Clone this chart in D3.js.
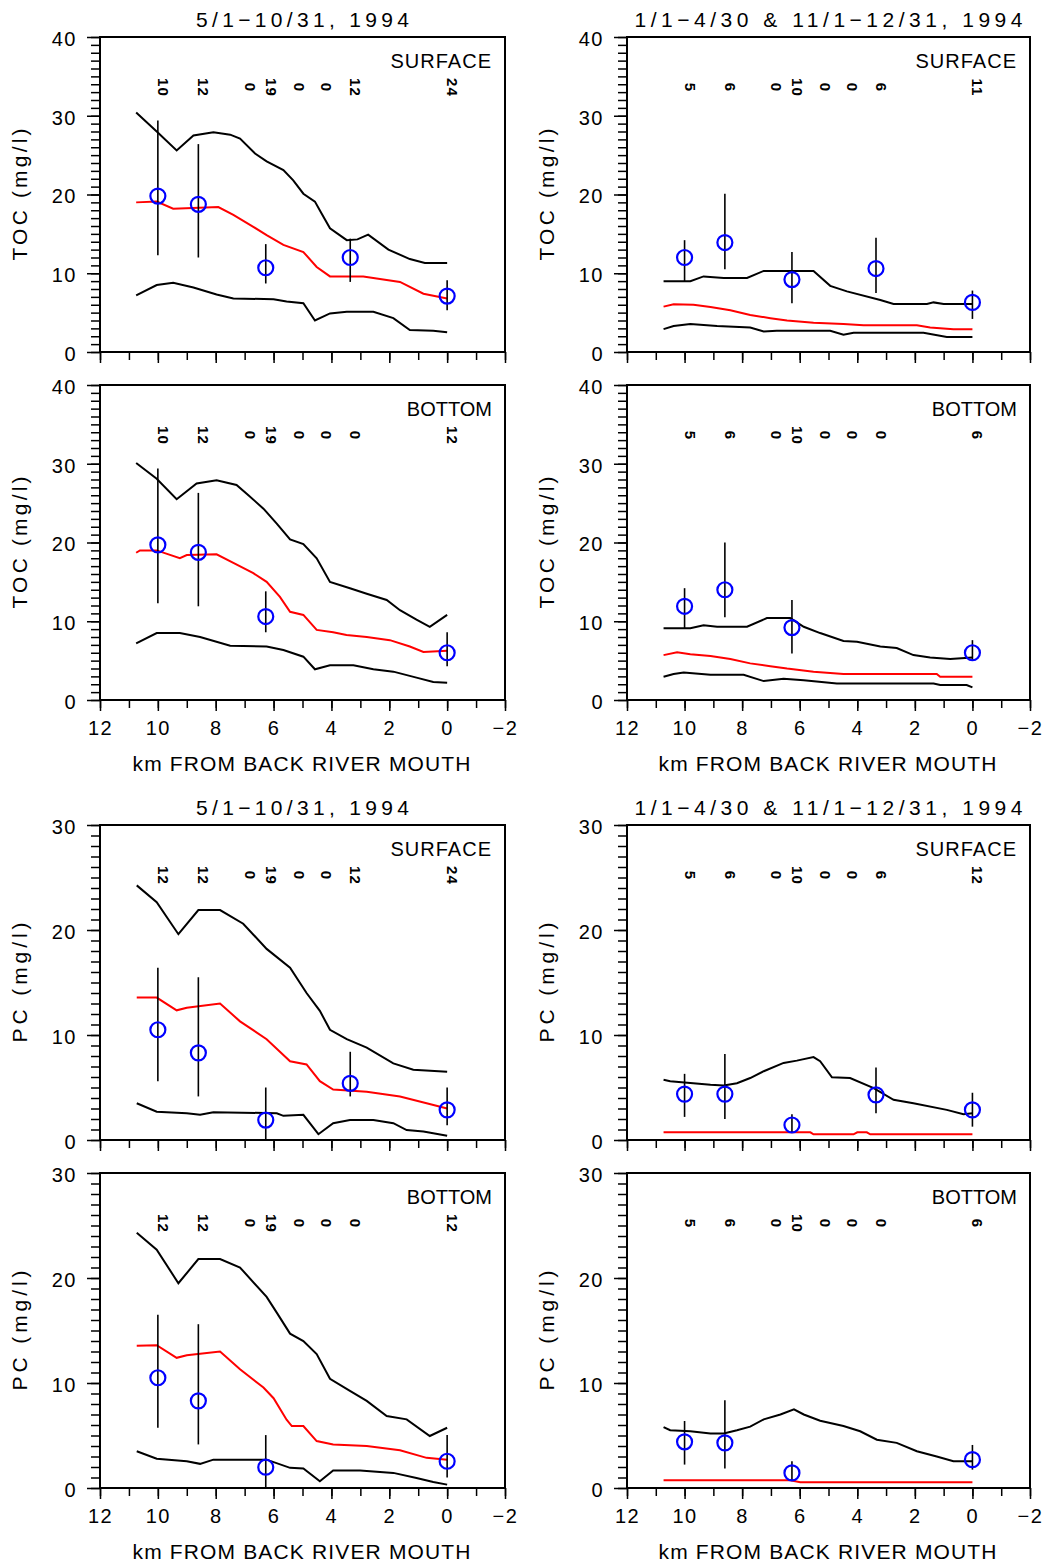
<!DOCTYPE html>
<html lang="en">
<head>
    <meta charset="UTF-8">
    <title>TOC and PC along Back River</title>
    <script src="https://d3js.org/d3.v7.min.js"></script>
    <style>
        body {
            margin: 0;
            background: #fff;
        }
        svg {
            display: block;
        }
        text {
            font-family: "Liberation Sans", Arial, sans-serif;
            fill: #000;
        }
        .frame {
            fill: none;
            stroke: #000;
            stroke-width: 2;
        }
        .tick line {
            stroke: #000;
            stroke-width: 1.5;
        }
        .band {
            fill: none;
            stroke: #000;
            stroke-width: 2;
        }
        .mid {
            fill: none;
            stroke: #ff0000;
            stroke-width: 2;
        }
        .err {
            stroke: #000;
            stroke-width: 1.6;
        }
        .obs {
            fill: none;
            stroke: #0000ff;
            stroke-width: 2.2;
        }
    </style>
</head>
<body>
<script>
    // stations (km from Back River mouth) used for the sample counts
    var stations = [10.0, 8.6, 7.0, 6.27, 5.3, 4.35, 3.35, 0.0];

    var titleSummer = "5/1\u221210/31, 1994";
    var titleWinter = "1/1\u22124/30 & 11/1\u221212/31, 1994";

    // ---- TOC, May-Oct, surface
    var tocSumSurfUpper = [[10.75,30.4],[10.04,28.0],[9.35,25.6],[8.77,27.5],[8.08,27.9],[7.5,27.6],[7.16,27.1],[6.64,25.2],[6.24,24.2],[5.66,23.1],[5.32,21.8],[4.97,20.1],[4.57,19.1],[4.34,17.6],[4.05,15.7],[3.47,14.2],[3.1,14.3],[2.73,14.9],[2.03,13.0],[1.29,11.8],[0.77,11.3],[0.0,11.3]];
    var tocSumSurfMid = [[10.75,19.0],[10.04,19.1],[9.47,18.2],[7.91,18.4],[7.39,17.4],[6.7,15.9],[6.24,14.85],[5.66,13.6],[4.97,12.7],[4.51,10.8],[4.05,9.6],[2.9,9.6],[1.63,8.9],[0.82,7.4],[0.0,6.8]];
    var tocSumSurfLower = [[10.75,7.2],[10.04,8.5],[9.47,8.8],[8.77,8.2],[7.97,7.3],[7.39,6.8],[6.0,6.7],[5.55,6.4],[4.97,6.2],[4.57,4.0],[4.05,4.9],[3.47,5.1],[2.55,5.1],[1.86,4.3],[1.29,2.8],[0.48,2.7],[0.0,2.5]];
    var tocSumSurfObsKm = [10.0, 8.6, 6.27, 3.35, 0.0];
    var tocSumSurfObs = [19.8, 18.75, 10.7, 12.0, 7.1];
    var tocSumSurfLo = [12.3, 12.0, 8.7, 8.9, 5.3];
    var tocSumSurfHi = [29.4, 26.4, 13.7, 14.4, 9.1];
    var tocSumSurfN = ["10", "12", "0", "19", "0", "0", "12", "24"];

    // ---- TOC, Jan-Apr & Nov-Dec, surface
    var tocWinSurfUpper = [[10.73,9.0],[9.8,9.0],[9.34,9.6],[8.64,9.4],[7.83,9.4],[7.25,10.3],[5.52,10.3],[4.94,8.4],[4.36,7.7],[3.2,6.6],[2.74,6.1],[1.58,6.1],[1.35,6.3],[1.0,6.1],[0.0,6.1]];
    var tocWinSurfMid = [[10.73,5.76],[10.38,6.05],[9.69,6.0],[9.1,5.7],[8.41,5.3],[7.72,4.7],[7.02,4.3],[6.44,4.0],[5.52,3.7],[4.48,3.55],[3.78,3.4],[1.93,3.4],[1.47,3.1],[0.66,2.9],[0.0,2.9]];
    var tocWinSurfLower = [[10.73,2.9],[10.38,3.3],[9.8,3.55],[8.87,3.3],[7.72,3.1],[7.25,2.6],[6.8,2.7],[4.94,2.7],[4.48,2.2],[4.13,2.45],[1.7,2.45],[0.89,1.9],[0.0,1.9]];
    var tocWinSurfObsKm = [10.0, 8.6, 6.27, 3.35, 0.0];
    var tocWinSurfObs = [12.0, 13.9, 9.2, 10.6, 6.3];
    var tocWinSurfLo = [9.0, 10.5, 6.2, 7.5, 4.2];
    var tocWinSurfHi = [14.2, 20.1, 12.7, 14.5, 7.8];
    var tocWinSurfN = ["5", "6", "0", "10", "0", "0", "6", "11"];

    // ---- TOC, May-Oct, bottom
    var tocSumBotUpper = [[10.75,30.1],[10.04,28.1],[9.35,25.5],[8.66,27.5],[7.97,27.9],[7.28,27.3],[6.87,26.0],[6.35,24.3],[5.89,22.4],[5.43,20.4],[4.97,19.8],[4.51,18.0],[4.05,15.0],[3.36,14.2],[2.78,13.5],[2.09,12.7],[1.63,11.4],[1.06,10.2],[0.6,9.3],[0.0,10.8]];
    var tocSumBotMid = [[10.75,18.7],[10.62,19.0],[10.04,19.0],[9.24,18.0],[9.0,18.4],[7.97,18.5],[7.39,17.4],[6.7,16.1],[6.24,15.0],[5.78,13.1],[5.43,11.2],[4.97,10.8],[4.51,8.9],[3.94,8.6],[3.48,8.25],[2.78,8.0],[1.98,7.6],[1.29,6.8],[0.82,6.1],[0.0,6.25]];
    var tocSumBotLower = [[10.75,7.2],[10.04,8.5],[9.24,8.5],[8.54,8.0],[7.5,6.9],[6.24,6.8],[5.66,6.35],[4.97,5.5],[4.57,3.9],[4.05,4.4],[3.24,4.4],[2.55,3.9],[1.86,3.6],[1.06,2.84],[0.48,2.3],[0.0,2.2]];
    var tocSumBotObsKm = [10.0, 8.6, 6.27, 0.0];
    var tocSumBotObs = [19.7, 18.75, 10.6, 6.0];
    var tocSumBotLo = [12.3, 11.9, 8.6, 4.3];
    var tocSumBotHi = [29.4, 26.3, 13.8, 8.6];
    var tocSumBotN = ["10", "12", "0", "19", "0", "0", "0", "12"];

    // ---- TOC, Jan-Apr & Nov-Dec, bottom
    var tocWinBotUpper = [[10.73,9.1],[9.8,9.1],[9.34,9.5],[8.87,9.3],[7.83,9.3],[7.14,10.4],[6.33,10.4],[5.86,9.3],[5.29,8.5],[4.48,7.5],[4.01,7.4],[3.2,6.8],[2.63,6.6],[2.05,5.7],[1.47,5.4],[0.77,5.2],[0.0,5.4]];
    var tocWinBotMid = [[10.73,5.7],[10.26,6.05],[9.8,5.8],[9.1,5.6],[8.41,5.2],[7.72,4.65],[7.02,4.3],[6.44,4.0],[5.52,3.6],[4.48,3.3],[1.24,3.3],[1.12,2.96],[0.0,2.96]];
    var tocWinBotLower = [[10.73,2.96],[10.38,3.3],[10.03,3.5],[9.1,3.2],[7.95,3.2],[7.25,2.4],[6.56,2.7],[5.86,2.5],[4.71,2.1],[1.35,2.1],[1.12,1.9],[0.2,1.9],[0.0,1.6]];
    var tocWinBotObsKm = [10.0, 8.6, 6.27, 0.0];
    var tocWinBotObs = [11.9, 14.0, 9.2, 6.0];
    var tocWinBotLo = [9.1, 10.5, 5.9, 5.1];
    var tocWinBotHi = [14.2, 20.0, 12.7, 7.6];
    var tocWinBotN = ["5", "6", "0", "10", "0", "0", "0", "6"];

    // ---- PC, May-Oct, surface
    var pcSumSurfUpper = [[10.73,24.25],[10.04,22.65],[9.29,19.6],[8.6,21.9],[7.85,21.9],[7.05,20.6],[6.24,18.2],[5.43,16.4],[4.86,14.0],[4.4,12.3],[4.05,10.5],[3.47,9.6],[2.78,8.8],[1.86,7.3],[1.17,6.7],[0.0,6.5]];
    var pcSumSurfMid = [[10.73,13.56],[10.04,13.56],[9.35,12.35],[9.0,12.6],[7.85,13.0],[7.16,11.3],[6.24,9.6],[5.43,7.5],[4.86,7.2],[4.4,5.6],[3.94,4.8],[2.78,4.6],[1.63,4.15],[0.71,3.5],[0.0,3.0]];
    var pcSumSurfLower = [[10.73,3.5],[10.04,2.7],[9.0,2.55],[8.54,2.4],[8.08,2.65],[5.89,2.55],[5.66,2.3],[4.97,2.4],[4.45,0.55],[3.94,1.6],[3.36,1.9],[2.55,1.9],[1.86,1.6],[1.4,0.95],[0.82,0.8],[0.0,0.4]];
    var pcSumSurfObsKm = [10.0, 8.6, 6.27, 3.35, 0.0];
    var pcSumSurfObs = [10.5, 8.3, 1.9, 5.4, 2.87];
    var pcSumSurfLo = [5.6, 4.15, 0.0, 4.15, 1.4];
    var pcSumSurfHi = [16.4, 15.5, 5.0, 8.4, 5.0];
    var pcSumSurfN = ["12", "12", "0", "19", "0", "0", "12", "24"];

    // ---- PC, Jan-Apr & Nov-Dec, surface
    var pcWinSurfUpper = [[10.73,5.74],[10.5,5.6],[9.1,5.27],[8.64,5.2],[8.18,5.4],[7.72,5.9],[7.25,6.55],[6.56,7.34],[6.1,7.56],[5.52,7.9],[5.29,7.5],[4.88,5.97],[4.25,5.9],[3.43,4.95],[2.74,3.83],[2.05,3.5],[0.89,2.87],[0.31,2.45],[0.0,2.55]];
    var pcWinSurfMid = [[10.73,0.73],[5.63,0.73],[5.52,0.54],[4.13,0.54],[4.0,0.73],[3.67,0.73],[3.55,0.54],[0.0,0.54]];
    var pcWinSurfObsKm = [10.0, 8.6, 6.27, 3.35, 0.0];
    var pcWinSurfObs = [4.37, 4.37, 1.43, 4.3, 2.87];
    var pcWinSurfLo = [2.2, 2.0, 0.73, 2.55, 1.27];
    var pcWinSurfHi = [6.3, 8.2, 2.45, 6.9, 4.5];
    var pcWinSurfN = ["5", "6", "0", "10", "0", "0", "6", "12"];

    // ---- PC, May-Oct, bottom
    var pcSumBotUpper = [[10.73,24.3],[10.04,22.7],[9.29,19.5],[8.6,21.8],[7.85,21.8],[7.16,21.0],[6.24,18.2],[5.89,16.7],[5.43,14.7],[4.97,14.0],[4.51,12.75],[4.05,10.4],[3.36,9.25],[2.78,8.3],[2.09,6.86],[1.4,6.54],[0.6,4.95],[0.0,5.74]];
    var pcSumBotMid = [[10.73,13.55],[10.04,13.6],[9.35,12.4],[9.0,12.65],[7.85,13.0],[7.16,11.3],[6.35,9.57],[6.0,8.55],[5.55,6.5],[5.37,5.9],[4.97,5.9],[4.51,4.47],[3.94,4.15],[2.78,4.0],[1.63,3.6],[0.71,2.87],[0.0,2.7]];
    var pcSumBotLower = [[10.73,3.5],[10.04,2.78],[9.0,2.55],[8.54,2.3],[8.08,2.7],[6.24,2.7],[5.43,1.92],[4.97,1.85],[4.4,0.64],[3.94,1.66],[3.01,1.66],[1.86,1.44],[1.06,0.96],[0.48,0.58],[0.0,0.32]];
    var pcSumBotObsKm = [10.0, 8.6, 6.27, 0.0];
    var pcSumBotObs = [10.5, 8.3, 1.98, 2.55];
    var pcSumBotLo = [5.74, 4.15, 0.0, 1.0];
    var pcSumBotHi = [16.5, 15.6, 5.04, 5.04];
    var pcSumBotN = ["12", "12", "0", "19", "0", "0", "0", "12"];

    // ---- PC, Jan-Apr & Nov-Dec, bottom
    var pcWinBotUpper = [[10.73,5.8],[10.5,5.5],[9.8,5.4],[9.1,5.2],[8.64,5.2],[8.18,5.5],[7.72,5.84],[7.25,6.54],[6.67,7.0],[6.2,7.5],[5.86,7.0],[5.29,6.4],[4.48,5.9],[3.9,5.4],[3.32,4.6],[2.63,4.3],[1.93,3.5],[1.24,3.0],[0.66,2.55],[0.0,2.55]];
    var pcWinBotMid = [[10.73,0.74],[6.33,0.74],[5.98,0.55],[0.0,0.55]];
    var pcWinBotObsKm = [10.0, 8.6, 6.27, 0.0];
    var pcWinBotObs = [4.4, 4.3, 1.44, 2.7];
    var pcWinBotLo = [2.23, 1.85, 0.7, 1.75];
    var pcWinBotHi = [6.38, 8.35, 2.55, 4.1];
    var pcWinBotN = ["5", "6", "0", "10", "0", "0", "0", "6"];

    // ---- layout
    var width = 1060;
    var height = 1568;
    var cols = [[100, 505], [627, 1030]];
    var rowTops = [37, 385, 825, 1173];
    var plotH = 315;

    function obsRows(km, mean, lo, hi) {
        return km.map(function (k, i) {
            return {km: k, v: mean[i], lo: lo[i], hi: hi[i]};
        });
    }

    var panels = [
        {col: 0, row: 0, ymax: 40, ylab: "TOC (mg/l)", ylabLen: 132, title: titleSummer, titleLen: 213, tag: "SURFACE",
            lines: [tocSumSurfUpper, tocSumSurfLower], mid: tocSumSurfMid,
            obs: obsRows(tocSumSurfObsKm, tocSumSurfObs, tocSumSurfLo, tocSumSurfHi), n: tocSumSurfN},
        {col: 1, row: 0, ymax: 40, ylab: "TOC (mg/l)", ylabLen: 132, title: titleWinter, titleLen: 388, tag: "SURFACE",
            lines: [tocWinSurfUpper, tocWinSurfLower], mid: tocWinSurfMid,
            obs: obsRows(tocWinSurfObsKm, tocWinSurfObs, tocWinSurfLo, tocWinSurfHi), n: tocWinSurfN},
        {col: 0, row: 1, ymax: 40, ylab: "TOC (mg/l)", ylabLen: 132, xlab: true, tag: "BOTTOM",
            lines: [tocSumBotUpper, tocSumBotLower], mid: tocSumBotMid,
            obs: obsRows(tocSumBotObsKm, tocSumBotObs, tocSumBotLo, tocSumBotHi), n: tocSumBotN},
        {col: 1, row: 1, ymax: 40, ylab: "TOC (mg/l)", ylabLen: 132, xlab: true, tag: "BOTTOM",
            lines: [tocWinBotUpper, tocWinBotLower], mid: tocWinBotMid,
            obs: obsRows(tocWinBotObsKm, tocWinBotObs, tocWinBotLo, tocWinBotHi), n: tocWinBotN},
        {col: 0, row: 2, ymax: 30, ylab: "PC (mg/l)", ylabLen: 120, title: titleSummer, titleLen: 213, tag: "SURFACE",
            lines: [pcSumSurfUpper, pcSumSurfLower], mid: pcSumSurfMid,
            obs: obsRows(pcSumSurfObsKm, pcSumSurfObs, pcSumSurfLo, pcSumSurfHi), n: pcSumSurfN},
        {col: 1, row: 2, ymax: 30, ylab: "PC (mg/l)", ylabLen: 120, title: titleWinter, titleLen: 388, tag: "SURFACE",
            lines: [pcWinSurfUpper], mid: pcWinSurfMid,
            obs: obsRows(pcWinSurfObsKm, pcWinSurfObs, pcWinSurfLo, pcWinSurfHi), n: pcWinSurfN},
        {col: 0, row: 3, ymax: 30, ylab: "PC (mg/l)", ylabLen: 120, xlab: true, tag: "BOTTOM",
            lines: [pcSumBotUpper, pcSumBotLower], mid: pcSumBotMid,
            obs: obsRows(pcSumBotObsKm, pcSumBotObs, pcSumBotLo, pcSumBotHi), n: pcSumBotN},
        {col: 1, row: 3, ymax: 30, ylab: "PC (mg/l)", ylabLen: 120, xlab: true, tag: "BOTTOM",
            lines: [pcWinBotUpper], mid: pcWinBotMid,
            obs: obsRows(pcWinBotObsKm, pcWinBotObs, pcWinBotLo, pcWinBotHi), n: pcWinBotN}
    ];

    var svg = d3.select("body").append("svg")
            .attr("width", width)
            .attr("height", height);

    var plot = function (p) {
        var x0 = cols[p.col][0], x1 = cols[p.col][1];
        var top = rowTops[p.row], bottom = top + plotH;

        var xScale = d3.scaleLinear().domain([12, -2]).range([x0, x1]);
        var yScale = d3.scaleLinear().domain([0, p.ymax]).range([bottom, top]);

        var g = svg.append("g");

        // minor ticks
        g.append("g")
                .attr("transform", "translate(" + x0 + ",0)")
                .call(d3.axisLeft(yScale).tickValues(d3.range(0, p.ymax + 1, 1))
                        .tickSize(9).tickSizeOuter(0).tickFormat(""))
                .call(function (a) { a.select(".domain").remove(); });
        g.append("g")
                .attr("transform", "translate(0," + bottom + ")")
                .call(d3.axisBottom(xScale).tickValues(d3.range(-2, 13, 1))
                        .tickSize(8).tickSizeOuter(0).tickFormat(""))
                .call(function (a) { a.select(".domain").remove(); });

        // major ticks + labels
        var yAxis = g.append("g")
                .attr("transform", "translate(" + x0 + ",0)")
                .call(d3.axisLeft(yScale).tickValues(d3.range(0, p.ymax + 1, 10))
                        .tickSize(13).tickSizeOuter(0).tickPadding(10));
        var xAxis = g.append("g")
                .attr("transform", "translate(0," + bottom + ")")
                .call(d3.axisBottom(xScale).tickValues(d3.range(-2, 13, 2))
                        .tickSize(11).tickSizeOuter(0).tickPadding(10)
                        .tickFormat(p.xlab ? d3.format("d") : ""));
        [yAxis, xAxis].forEach(function (a) {
            a.select(".domain").remove();
            a.attr("font-family", null).attr("font-size", null);
            a.selectAll("text")
                    .style("font-size", "20px")
                    .style("letter-spacing", "1.5px");
        });
        yAxis.selectAll("text").attr("dy", "0.42em");

        g.append("rect")
                .attr("class", "frame")
                .attr("x", x0).attr("y", top)
                .attr("width", x1 - x0).attr("height", plotH);

        // model envelope and median
        var line = d3.line()
                .x(function (d) { return xScale(d[0]); })
                .y(function (d) { return yScale(d[1]); });

        g.selectAll(".band")
                .data(p.lines)
                .enter()
                .append("path")
                .attr("class", "band")
                .attr("d", line);
        g.append("path")
                .datum(p.mid)
                .attr("class", "mid")
                .attr("d", line);

        // observations
        g.selectAll(".err")
                .data(p.obs)
                .enter()
                .append("line")
                .attr("class", "err")
                .attr("x1", function (d) { return xScale(d.km); })
                .attr("x2", function (d) { return xScale(d.km); })
                .attr("y1", function (d) { return yScale(d.lo); })
                .attr("y2", function (d) { return yScale(d.hi); });
        g.selectAll(".obs")
                .data(p.obs)
                .enter()
                .append("circle")
                .attr("class", "obs")
                .attr("r", 7.5)
                .attr("cx", function (d) { return xScale(d.km); })
                .attr("cy", function (d) { return yScale(d.v); });

        // sample counts
        g.selectAll(".count")
                .data(p.n)
                .enter()
                .append("text")
                .attr("class", "count")
                .attr("text-anchor", "middle")
                .style("font-size", "15px")
                .style("font-weight", "bold")
                .style("letter-spacing", "1px")
                .attr("transform", function (d, i) {
                    return "translate(" + xScale(stations[i]) + "," + yScale(p.ymax * 0.84) + ") rotate(90)";
                })
                .text(function (d) { return d; });

        // texts
        g.append("text")
                .attr("x", x1 - 13).attr("y", top + 31)
                .attr("text-anchor", "end")
                .style("font-size", "20px")
                .style("letter-spacing", p.tag === "SURFACE" ? "1px" : "0px")
                .text(p.tag);

        g.append("text")
                .attr("text-anchor", "middle")
                .attr("textLength", p.ylabLen)
                .style("font-size", "21px")
                .attr("transform", "translate(" + (x0 - 73) + "," + ((top + bottom) / 2) + ") rotate(-90)")
                .text(p.ylab);

        if (p.title) {
            g.append("text")
                    .attr("x", (x0 + x1) / 2).attr("y", top - 10)
                    .attr("text-anchor", "middle")
                    .attr("textLength", p.titleLen)
                    .style("font-size", "21px")
                    .text(p.title);
        }
        if (p.xlab) {
            g.append("text")
                    .attr("x", (x0 + x1) / 2 - 1).attr("y", bottom + 71)
                    .attr("text-anchor", "middle")
                    .attr("textLength", 338)
                    .style("font-size", "21px")
                    .text("km FROM BACK RIVER MOUTH");
        }
    };

    panels.forEach(plot);
</script>
</body>
</html>
